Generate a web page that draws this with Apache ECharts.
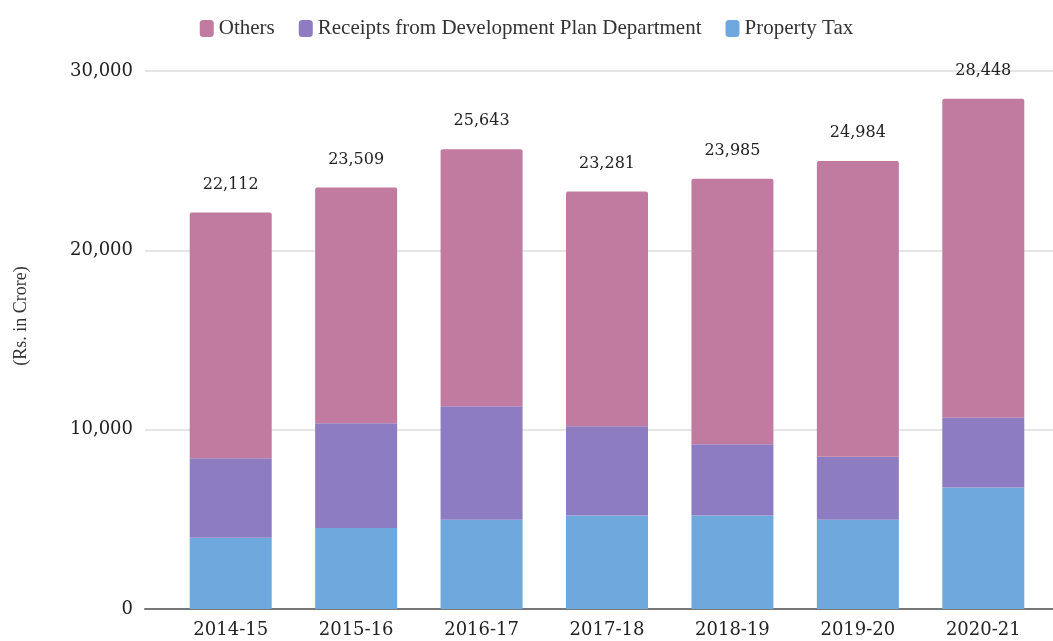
<!DOCTYPE html>
<html>
<head>
<meta charset="utf-8">
<script src="https://cdn.jsdelivr.net/npm/echarts@6/dist/echarts.min.js"></script>
<style>
  html, body { margin: 0; padding: 0; background: #fff; }
  #main { width: 1053px; height: 641px; }
</style>
</head>
<body>
<div id="main"></div>
<script>
// years
var years = ["2014-15", "2015-16", "2016-17", "2017-18", "2018-19", "2019-20", "2020-21"]
// stacked parts (Rs. in Crore)
var propertyTax = [3975, 4510, 4980, 5220, 5220, 4980, 6770]
var receiptsDP = [4425, 5850, 6330, 4970, 3960, 3510, 3890]
var others = [13712, 13149, 14333, 13091, 14805, 16494, 17788]
// labels printed on top of each bar
var totals = [22112, 23509, 25643, 23281, 23985, 24984, 28448]
var yTicks = { min: 0, max: 30000, interval: 10000 }

var serif = "DejaVu Serif"
var chart = echarts.init(document.getElementById("main"), null, { renderer: "canvas" })

function fmt(v) {
  return String(v).replace(/\B(?=(\d{3})+(?!\d))/g, ",")
}

var option = {
  backgroundColor: "#fff",
  animation: false,
  color: ["#C27BA0", "#8E7CC3", "#6FA8DC"],
  legend: {
    top: 13,
    left: "center",
    data: ["Others", "Receipts from Development Plan Department", "Property Tax"],
    itemWidth: 14,
    itemHeight: 17,
    itemGap: 24,
    icon: "roundRect",
    textStyle: { fontFamily: "Liberation Serif", fontSize: 21, color: "#333" }
  },
  grid: [
    // background grid: gridlines + axis line run full width
    { left: 145, right: 0, top: 71, bottom: 32 },
    // bars
    { left: 168, right: 7, top: 71, bottom: 32 }
  ],
  xAxis: [
    {
      gridIndex: 0, type: "value", min: 0, max: 1,
      axisLine: { show: true, lineStyle: { color: "#777", width: 2 } },
      axisTick: { show: false }, axisLabel: { show: false }, splitLine: { show: false }
    },
    {
      gridIndex: 1, type: "category", data: years,
      axisLine: { show: false }, axisTick: { show: false },
      axisLabel: { margin: 12, fontFamily: serif, fontSize: 18, color: "#222" }
    }
  ],
  yAxis: [
    {
      gridIndex: 0, type: "value", min: yTicks.min, max: yTicks.max, interval: yTicks.interval,
      name: "(Rs. in Crore)", nameLocation: "middle", nameGap: 115,
      nameTextStyle: { fontFamily: "Liberation Serif", fontSize: 18, color: "#333", padding: [0, 0, 0, 48] },
      axisLine: { show: false }, axisTick: { show: false },
      axisLabel: {
        margin: 12, fontFamily: serif, fontSize: 18, color: "#222",
        formatter: function (v) { return fmt(v) }
      },
      splitLine: { lineStyle: { color: "#ddd", width: 1.5 } }
    },
    {
      gridIndex: 1, type: "value", min: yTicks.min, max: yTicks.max, interval: yTicks.interval,
      show: false, splitLine: { show: false }
    }
  ],
  series: [
    {
      name: "Property Tax", type: "bar", stack: "t", xAxisIndex: 1, yAxisIndex: 1,
      barWidth: 82, data: propertyTax, itemStyle: { color: "#6FA8DC" }
    },
    {
      name: "Receipts from Development Plan Department", type: "bar", stack: "t",
      xAxisIndex: 1, yAxisIndex: 1, barWidth: 82, data: receiptsDP,
      itemStyle: { color: "#8E7CC3" }
    },
    {
      name: "Others", type: "bar", stack: "t", xAxisIndex: 1, yAxisIndex: 1,
      barWidth: 82, data: others,
      itemStyle: { color: "#C27BA0", borderRadius: [2, 2, 0, 0] },
      label: {
        show: true, position: "top", distance: 20,
        fontFamily: serif, fontSize: 16, color: "#222",
        formatter: function (p) { return fmt(totals[p.dataIndex]) }
      }
    }
  ]
}

chart.setOption(option)
</script>
</body>
</html>
